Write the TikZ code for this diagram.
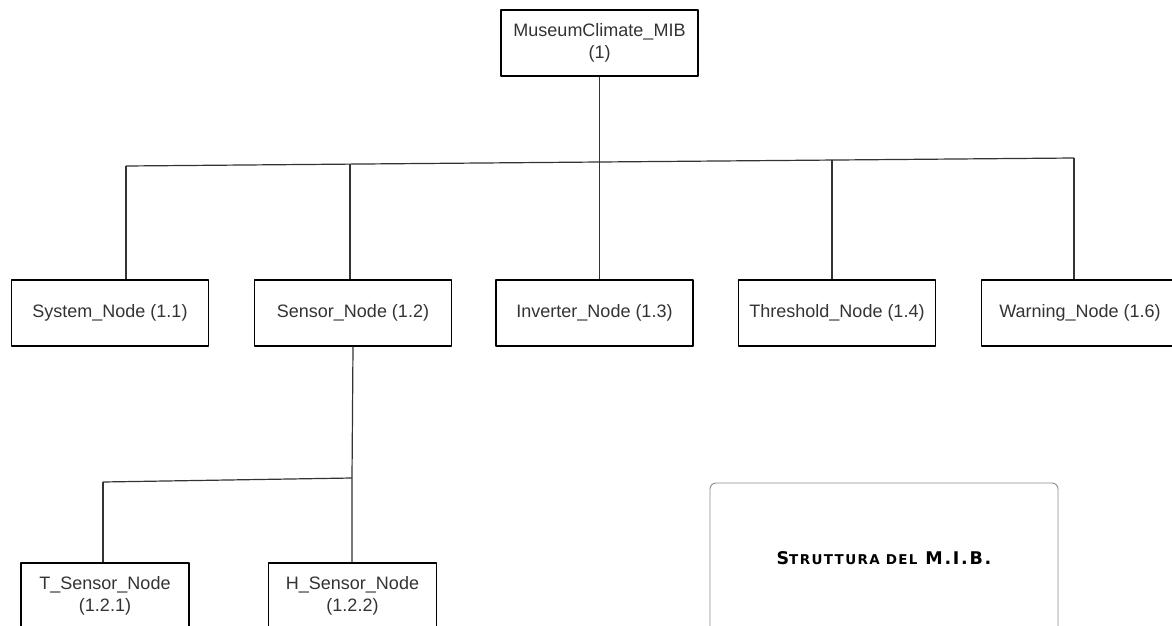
\documentclass[tikz,border=0pt]{standalone}
\usepackage{fontspec}
\setmainfont{Liberation Sans}
\newfontfamily\titlefont[LetterSpace=10]{DejaVu Sans}
\begin{document}
\begin{tikzpicture}[x=1pt,y=-1pt, line join=round, font=\fontsize{18}{22}\selectfont]
	\tikzset{box/.style={draw, line width=1.4pt, minimum width=197pt, minimum height=66pt, align=center, inner sep=0pt, text=black!80},
		subbox/.style={box, minimum width=168pt},
		wire/.style={line width=1.2pt, black!80}}
	\useasboundingbox (0,0) rectangle (1172,626);
	%radice
	\node[box] (mib) at (599.5,43) {MuseumClimate\_MIB\\(1)};
	%primo livello
	\node[box] (sys) at (110,313) {System\_Node (1.1)};
	\node[box] (sen) at (353,313) {Sensor\_Node (1.2)};
	\node[box] (inv) at (594.5,313) {Inverter\_Node (1.3)};
	\node[box] (thr) at (837,313) {Threshold\_Node (1.4)};
	\node[box] (war) at (1080,313) {Warning\_Node (1.6)};
	%sensori
	\node[subbox] (tsn) at (105,596) {T\_Sensor\_Node\\(1.2.1)};
	\node[subbox] (hsn) at (352.5,596) {H\_Sensor\_Node\\(1.2.2)};
	\coordinate (b1) at (126,166); \coordinate (b2) at (350,164);
	\coordinate (b3) at (599.5,162); \coordinate (b4) at (832,160);
	\coordinate (b5) at (1074,158);
	\coordinate (s1) at (103,482); \coordinate (s2) at (352,478);
	\draw[wire] (b1)--(b5);
	\draw[wire] (mib.south)--(b3)--(b3 |- inv.north);
	\draw[wire] (b1)--(b1 |- sys.north);
	\draw[wire] (b2)--(b2 |- sen.north);
	\draw[wire] (b4)--(b4 |- thr.north);
	\draw[wire] (b5)--(b5 |- war.north);
	\draw[wire] (sen.south)--(s2)--(s2 |- hsn.north);
	\draw[wire] (s1)--(s2);
	\draw[wire] (s1)--(s1 |- tsn.north);
	%titolo
	\node[draw=black!45, line width=0.9pt, rounded corners=6pt, minimum width=348pt, minimum height=150pt] (tit) at (884,558)
		{\titlefont\bfseries\fontsize{17.5}{20}\selectfont S{\fontsize{13.5}{20}\selectfont TRUTTURA DEL} M.I.B.};
\end{tikzpicture}
\end{document}
